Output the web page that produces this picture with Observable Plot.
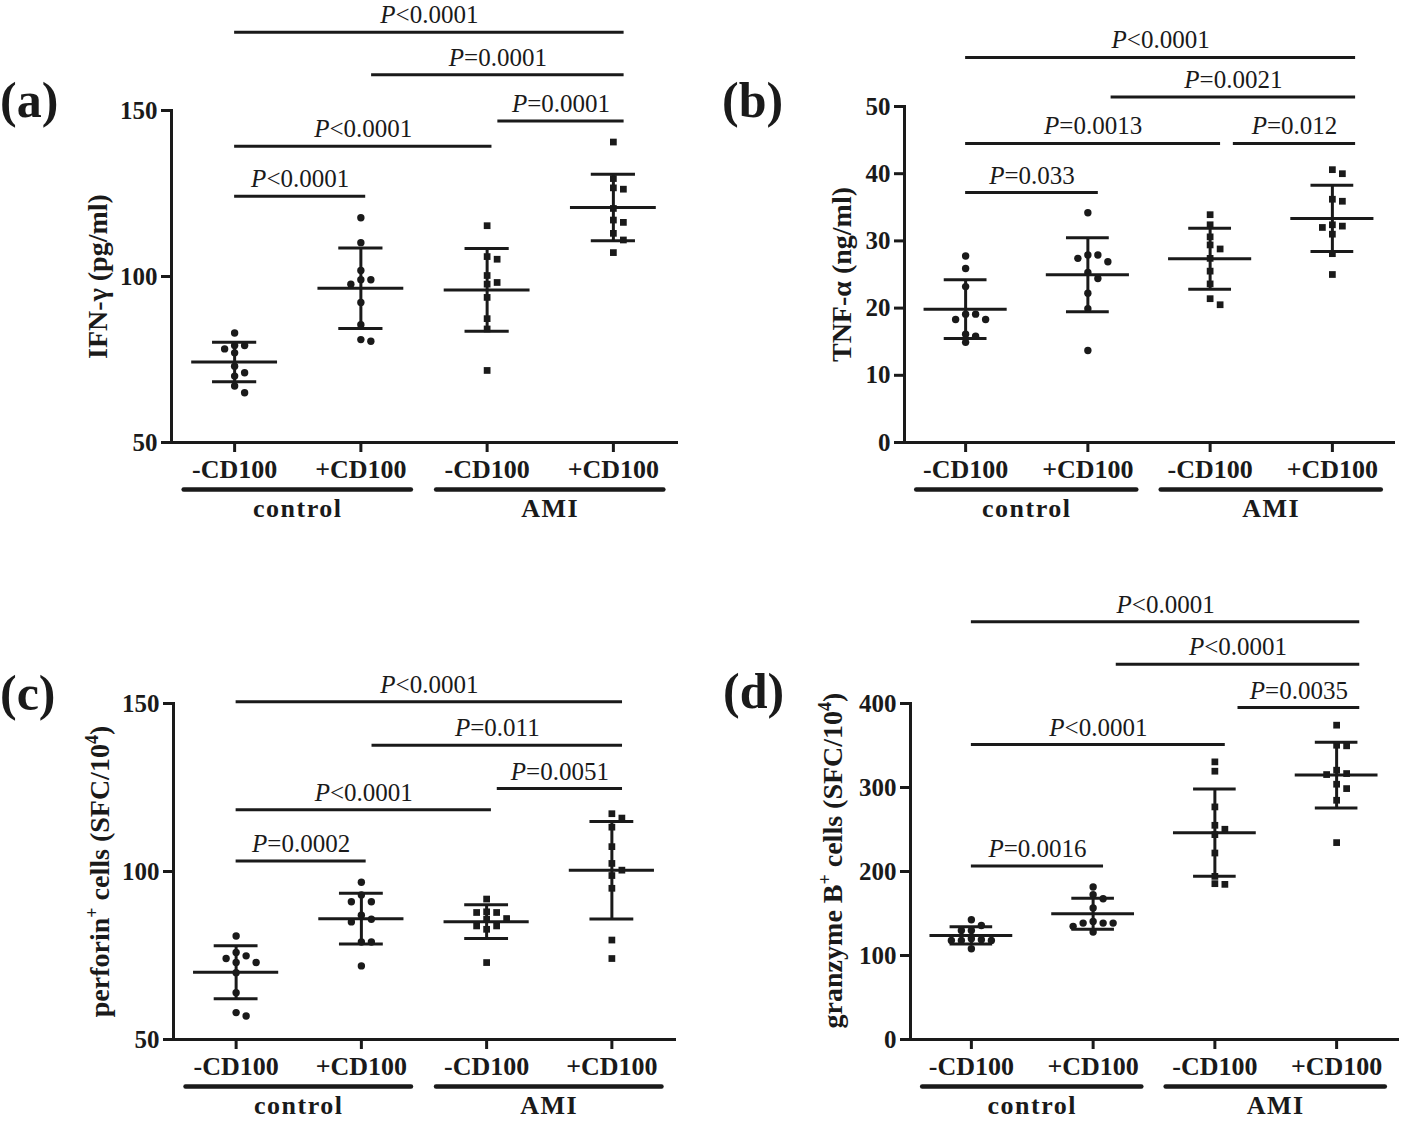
<!DOCTYPE html>
<html><head><meta charset="utf-8">
<script src="https://cdn.jsdelivr.net/npm/d3@7"></script>
<script src="https://cdn.jsdelivr.net/npm/@observablehq/plot@0.6"></script>
<style>
body{margin:0;background:#fff;}
#page{position:relative;width:1418px;height:1123px;overflow:hidden;font-family:"Liberation Serif","Times New Roman",serif;color:#1a1a1a;background:#fff;}
.panel{position:absolute;}
.tag{position:absolute;font-size:50px;font-weight:bold;line-height:50px;white-space:nowrap;}
</style></head><body><div id="page"></div>
<script>
const groupLabels = ["-CD100", "+CD100", "-CD100", "+CD100"];
const cohortLabels = ["control", "AMI"];

// (a) IFN-γ (pg/ml)
const ifnControlMinus = [83, 79.2, 79.2, 78.2, 77, 73, 71, 70, 67, 65];
const ifnControlPlus = [117.7, 110.2, 101.8, 99, 99, 97.7, 92.2, 85.5, 80.5, 81];
const ifnAmiMinus = [115.3, 106, 105.2, 100.3, 97.7, 98.2, 93.7, 87.3, 84.2, 71.7];
const ifnAmiPlus = [140.5, 129.5, 126.3, 126.7, 120.5, 116.3, 117, 113, 111, 107.2];
const ifnPValues = [
  {from: 0, to: 1, label: "P<0.0001", y: 124.2},
  {from: 0, to: 2, label: "P<0.0001", y: 139.2},
  {from: 2, to: 3, label: "P=0.0001", y: 146.8},
  {from: 1, to: 3, label: "P=0.0001", y: 160.8},
  {from: 0, to: 3, label: "P<0.0001", y: 173.6}
];

// (b) TNF-α (ng/ml)
const tnfControlMinus = [27.75, 25.9, 23.2, 19.1, 19.1, 18.3, 18.3, 16.1, 15.8, 14.9];
const tnfControlPlus = [34.2, 27.9, 27.9, 27.4, 26.9, 25.3, 24.4, 22.2, 19.9, 13.7];
const tnfAmiMinus = [33.9, 32.4, 30.6, 28.8, 29.4, 27.4, 25.5, 23.6, 21.4, 20.5];
const tnfAmiPlus = [40, 40.6, 36.2, 35.9, 32.2, 32, 32.4, 31, 28.1, 25];
const tnfPValues = [
  {from: 0, to: 1, label: "P=0.033", y: 37.2},
  {from: 0, to: 2, label: "P=0.0013", y: 44.5},
  {from: 2, to: 3, label: "P=0.012", y: 44.5},
  {from: 1, to: 3, label: "P=0.0021", y: 51.4},
  {from: 0, to: 3, label: "P<0.0001", y: 57.3}
];

// (c) perforin+ cells (SFC/10^4)
const perforinControlMinus = [80.8, 74.9, 74.1, 75.9, 72.9, 72.9, 69.9, 63.9, 57, 58];
const perforinControlPlus = [96.8, 91, 91, 93, 87, 85, 85.8, 79, 79, 71.9];
const perforinAmiMinus = [91.8, 87.8, 88, 87.8, 86, 85.8, 83.8, 82.8, 83.8, 72.9];
const perforinAmiPlus = [117.2, 115.9, 113.2, 107.4, 102.4, 100.4, 98.8, 95, 79.6, 74.1];
const perforinPValues = [
  {from: 0, to: 1, label: "P=0.0002", y: 103.1},
  {from: 0, to: 2, label: "P<0.0001", y: 118.4},
  {from: 2, to: 3, label: "P=0.0051", y: 124.7},
  {from: 1, to: 3, label: "P=0.011", y: 137.6},
  {from: 0, to: 3, label: "P<0.0001", y: 150.5}
];

// (d) granzyme B+ cells (SFC/10^4)
const granzymeControlMinus = [142.6, 129.9, 135.8, 129.9, 118, 118.8, 120, 118, 118, 108];
const granzymeControlPlus = [181.5, 172.4, 167.6, 156.5, 138.6, 138.6, 140.6, 134.7, 138.6, 127.9];
const granzymeAmiMinus = [330.5, 319.4, 276.9, 255, 250.3, 243.9, 222, 194.2, 184.7, 185.5];
const granzymeAmiPlus = [374.2, 349.6, 350.3, 316.6, 315.4, 320.6, 303.9, 298.7, 284.8, 234.4];
const granzymePValues = [
  {from: 0, to: 1, label: "P=0.0016", y: 206.4},
  {from: 0, to: 2, label: "P<0.0001", y: 351.1},
  {from: 2, to: 3, label: "P=0.0035", y: 395.2},
  {from: 1, to: 3, label: "P<0.0001", y: 446.8},
  {from: 0, to: 3, label: "P<0.0001", y: 497.3}
];

const INK = "#1a1a1a";
const FONT = '"Liberation Serif","Times New Roman",serif';

const panels = [
  {tag: "(a)", tagLeft: 0, tagTop: 75, left: 0, top: 0, width: 709, height: 561,
   marginLeft: 171, marginRight: 33, marginTop: 110, marginBottom: 119,
   values: [ifnControlMinus, ifnControlPlus, ifnAmiMinus, ifnAmiPlus], brackets: ifnPValues,
   yDomain: [50, 150], yTicks: [50, 100, 150], yLabel: "IFN-γ (pg/ml)", labelDx: -73, labelDy: 0, shift: 0.085},
  {tag: "(b)", tagLeft: 722, tagTop: 75, left: 709, top: 0, width: 709, height: 561,
   marginLeft: 195, marginRight: 25, marginTop: 106, marginBottom: 119,
   values: [tnfControlMinus, tnfControlPlus, tnfAmiMinus, tnfAmiPlus], brackets: tnfPValues,
   yDomain: [0, 50], yTicks: [0, 10, 20, 30, 40, 50], yLabel: "TNF-α (ng/ml)", labelDx: -62, labelDy: 0, shift: 0.19},
  {tag: "(c)", tagLeft: 0, tagTop: 668, left: 0, top: 561, width: 709, height: 562,
   marginLeft: 173, marginRight: 35, marginTop: 142, marginBottom: 84,
   values: [perforinControlMinus, perforinControlPlus, perforinAmiMinus, perforinAmiPlus], brackets: perforinPValues,
   yDomain: [50, 150], yTicks: [50, 100, 150], yLabel: "perforin⁺ cells (SFC/10⁴)", labelDx: -73, labelDy: 0, shift: 0.085},
  {tag: "(d)", tagLeft: 723, tagTop: 666, left: 709, top: 561, width: 709, height: 562,
   marginLeft: 201, marginRight: 21, marginTop: 142, marginBottom: 84,
   values: [granzymeControlMinus, granzymeControlPlus, granzymeAmiMinus, granzymeAmiPlus], brackets: granzymePValues,
   yDomain: [0, 400], yTicks: [0, 100, 200, 300, 400], yLabel: "granzyme B⁺ cells (SFC/10⁴)", labelDx: -77, labelDy: -11, shift: 0.19}
];

// GraphPad-like column scatter: spread points that would overlap into side columns (pixel space)
function swarm(options, spacing = 10, minGap = 7) {
  return Plot.initializer(options, function (data, facets, channels, scales) {
    const G = channels.x.value, V = channels.y.value;
    const n = G.length;
    const X = new Float64Array(n), Y = new Float64Array(n);
    for (let i = 0; i < n; i++) { X[i] = scales.x(G[i]); Y[i] = scales.y(V[i]); }
    for (const I of facets) {
      const byGroup = d3.group(Array.from(I), (i) => G[i]);
      for (const [, idx] of byGroup) {
        const placed = [];
        idx.sort((a, b) => Y[a] - Y[b]);
        for (const i of idx) {
          for (let k = 0; k < 50; k++) {
            const col = k === 0 ? 0 : (k % 2 ? (k + 1) / 2 : -k / 2);
            if (!placed.some((p) => p.col === col && Math.abs(p.y - Y[i]) < minGap)) {
              placed.push({col, y: Y[i]});
              X[i] += col * spacing;
              break;
            }
          }
        }
      }
    }
    return {data, facets, channels: {x: {value: X}, y: {value: Y}}};
  });
}

const SUP = {"⁺": "+", "⁴": "4"};
function decorate(svg) {
  const NS = "http://www.w3.org/2000/svg";
  svg.querySelectorAll("text").forEach((t) => {
    const s = t.textContent;
    if (/^P[<=]/.test(s)) {
      t.textContent = "";
      const a = document.createElementNS(NS, "tspan");
      a.setAttribute("font-style", "italic");
      a.textContent = "P";
      const b = document.createElementNS(NS, "tspan");
      b.textContent = s.slice(1);
      t.appendChild(a); t.appendChild(b);
    } else if (/[⁺⁴]/.test(s)) {
      t.textContent = "";
      let shifted = false;
      const parts = [];
      for (const ch of s) {
        const isSup = ch in SUP;
        if (parts.length && parts[parts.length - 1].sup === isSup) parts[parts.length - 1].text += isSup ? SUP[ch] : ch;
        else parts.push({sup: isSup, text: isSup ? SUP[ch] : ch});
      }
      for (const p of parts) {
        const sp = document.createElementNS(NS, "tspan");
        if (p.sup) { sp.setAttribute("font-size", "18"); sp.setAttribute("dy", "-11"); shifted = true; }
        else if (shifted) { sp.setAttribute("dy", "11"); shifted = false; }
        sp.textContent = p.text;
        t.appendChild(sp);
      }
    } else if (s === "control" || s === "AMI") {
      t.setAttribute("letter-spacing", "1.5");
    }
  });
}

const page = document.getElementById("page");
for (const p of panels) {
  const stats = p.values.map((vals, g) => ({g, mean: d3.mean(vals), sd: d3.deviation(vals)}));
  const points = p.values.flatMap((vals, g) => vals.map((v) => ({g, v})));
  const ymin = p.yDomain[0];
  const spans = cohortLabels.map((c, k) => ({c, a: 2 * k, b: 2 * k + 1}));
  const sh = p.shift;
  const bx1 = (d) => d.from + (d.from > 0 ? sh : 0);
  const bx2 = (d) => d.to + (d.to === 3 ? sh : 0.45 * sh);
  const svg = Plot.plot({
    width: p.width, height: p.height,
    marginLeft: p.marginLeft, marginRight: p.marginRight, marginTop: p.marginTop, marginBottom: p.marginBottom,
    x: {domain: [-0.5, 3.5]},
    y: {domain: p.yDomain},
    style: {fontFamily: FONT, color: INK, background: "transparent", overflow: "visible"},
    marks: [
      Plot.dot(points.filter((d) => d.g < 2), swarm({x: "g", y: "v", r: 3.7, fill: INK, symbol: "circle"})),
      Plot.dot(points.filter((d) => d.g >= 2), swarm({x: "g", y: "v", r: 3.8, fill: INK, symbol: "square"})),
      Plot.ruleX(stats, {x: "g", y1: (d) => d.mean - d.sd, y2: (d) => d.mean + d.sd, strokeWidth: 3}),
      Plot.ruleY(stats, {x1: (d) => d.g - 0.34, x2: (d) => d.g + 0.34, y: "mean", strokeWidth: 3}),
      Plot.ruleY(stats, {x1: (d) => d.g - 0.175, x2: (d) => d.g + 0.175, y: (d) => d.mean + d.sd, strokeWidth: 3}),
      Plot.ruleY(stats, {x1: (d) => d.g - 0.175, x2: (d) => d.g + 0.175, y: (d) => d.mean - d.sd, strokeWidth: 3}),
      Plot.frame({anchor: "left", strokeWidth: 3, strokeLinecap: "square"}),
      Plot.frame({anchor: "bottom", strokeWidth: 3, strokeLinecap: "square"}),
      Plot.axisY({ticks: p.yTicks, tickFormat: (d) => String(d), tickSize: 10, tickPadding: 4, strokeWidth: 3,
        fontSize: 25, fontWeight: "bold", label: null}),
      Plot.axisX({ticks: [0, 1, 2, 3], tickFormat: (i) => groupLabels[i], tickSize: 10, tickPadding: 7, strokeWidth: 3,
        fontSize: 26, fontWeight: "bold", label: null}),
      Plot.text([p.yLabel], {text: (d) => d, frameAnchor: "left", textAnchor: "middle", rotate: -90,
        dx: p.labelDx, dy: p.labelDy, fontSize: 28, fontWeight: "bold"}),
      Plot.ruleY(spans, {x1: (d) => d.a - 0.4, x2: (d) => d.b + 0.4, y: () => ymin, dy: 47, strokeWidth: 4.5, strokeLinecap: "round"}),
      Plot.text(spans, {x: (d) => (d.a + d.b) / 2, y: () => ymin, dy: 66, text: "c", fontSize: 26, fontWeight: "bold"}),
      Plot.ruleY(p.brackets, {x1: bx1, x2: bx2, y: "y", strokeWidth: 3}),
      Plot.text(p.brackets, {x: (d) => (bx1(d) + bx2(d)) / 2, y: "y", text: "label", fontSize: 25,
        lineAnchor: "bottom", dy: -9})
    ]
  });
  decorate(svg);
  const wrap = document.createElement("div");
  wrap.className = "panel";
  wrap.style.left = p.left + "px";
  wrap.style.top = p.top + "px";
  wrap.appendChild(svg);
  page.appendChild(wrap);
  const tag = document.createElement("div");
  tag.className = "tag";
  tag.style.left = p.tagLeft + "px";
  tag.style.top = p.tagTop + "px";
  tag.textContent = p.tag;
  page.appendChild(tag);
}
</script></body></html>
